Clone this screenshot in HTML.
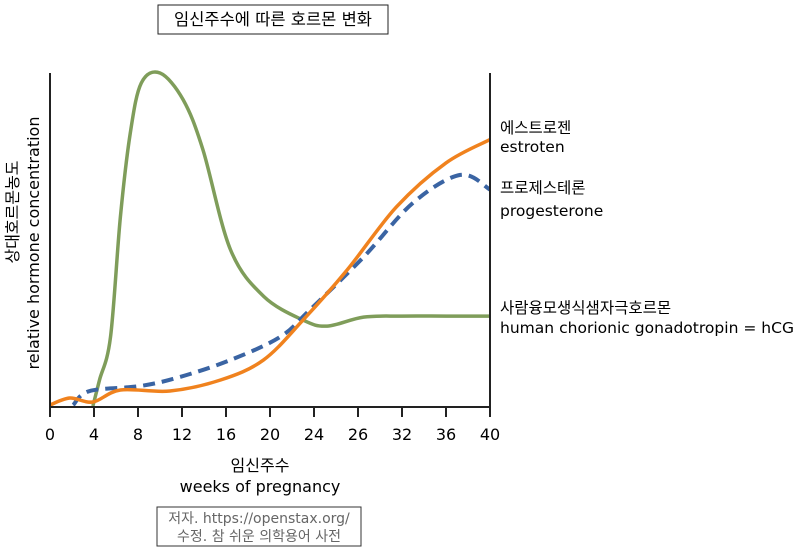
<!DOCTYPE html>
<html><head><meta charset="utf-8"><style>
body{margin:0;background:#fff;width:800px;height:552px;overflow:hidden}
svg text{font-family:"DejaVu Sans","Liberation Sans","Noto Sans CJK KR",sans-serif}
</style></head><body>
<svg id="c" width="800" height="552">
<rect x="158" y="5" width="230" height="29" fill="#fff" stroke="#222"/>
<text x="273" y="25" font-size="16.5" text-anchor="middle">임신주수에 따른 호르몬 변화</text>
<g id="plot"></g>
<text x="500" y="133" font-size="15.5">에스트로젠</text>
<text x="500" y="152" font-size="15.5">estroten</text>
<text x="500" y="193" font-size="15.5">프로제스테론</text>
<text x="500" y="216" font-size="15.5">progesterone</text>
<text x="500" y="313" font-size="15.5">사람융모생식샘자극호르몬</text>
<text x="500" y="333" font-size="15.5" textLength="294" lengthAdjust="spacingAndGlyphs">human chorionic gonadotropin = hCG</text>
<text transform="translate(18,212) rotate(-90)" font-size="16" text-anchor="middle">상대호르몬농도</text>
<text transform="translate(39,243) rotate(-90)" font-size="16" text-anchor="middle">relative hormone concentration</text>
<text x="260" y="471" font-size="16" text-anchor="middle">임신주수</text>
<text x="260" y="492" font-size="16" text-anchor="middle">weeks of pregnancy</text>
<rect x="157" y="507" width="204" height="39" fill="#fff" stroke="#333"/>
<text x="259" y="523" font-size="14" fill="#666" text-anchor="middle">저자. https://openstax.org/</text>
<text x="259" y="541" font-size="14" fill="#666" text-anchor="middle">수정. 참 쉬운 의학용어 사전</text>
</svg>
<script>
const tickLabels=["0","4","8","12","16","20","24","26","32","36","40"];
const hcgWeeks=[3.9,4.5,5.5,6.4,7.3,8.3,10,12.1,13.9,16.4,19.4,23,25.2,28.5,32,36,40];
const hcgValues=[0,7.8,20.7,56.8,82,97,100,92,77,47,33,25.8,24,26.7,27,27,27];
const estWeeks=[0,1.8,3.9,6.4,10.9,15.5,19.4,23,27,31.5,36,40];
const estValues=[0.3,2.4,1.2,4.8,4.5,7.8,13.8,25.8,40.8,59.8,73,80];
const proWeeks=[2.1,3.6,8.2,11.8,16.4,20.9,23.6,28.5,33,37.3,40];
const proValues=[0.3,4.5,6,8.7,13.8,20.7,28.8,44.7,61,69.4,65];
const NS="http://www.w3.org/2000/svg";
const g=document.getElementById('plot');
const X=w=>50+w*11, Y=v=>406-v*3.33;
function el(t,a){const e=document.createElementNS(NS,t);for(const k in a)e.setAttribute(k,a[k]);g.appendChild(e);return e;}
function path(ws,vs){const p=ws.map((w,i)=>[X(w),Y(vs[i])]);let d="M"+p[0][0]+","+p[0][1];
for(let i=0;i<p.length-1;i++){const p0=p[Math.max(0,i-1)],p1=p[i],p2=p[i+1],p3=p[Math.min(p.length-1,i+2)];
d+=` C${p1[0]+(p2[0]-p0[0])/6},${p1[1]+(p2[1]-p0[1])/6} ${p2[0]-(p3[0]-p1[0])/6},${p2[1]-(p3[1]-p1[1])/6} ${p2[0]},${p2[1]}`;}return d;}
const hc=el('path',{d:path(hcgWeeks,hcgValues),fill:'none',stroke:'#7f9d5a','stroke-width':3.5});


const pr=el('path',{d:path(proWeeks,proValues),fill:'none',stroke:'#3a64a3','stroke-width':4,'stroke-dasharray':'12,7'});


const es=el('path',{d:path(estWeeks,estValues),fill:'none',stroke:'#f0821e','stroke-width':3.5});


const ax=el('path',{d:'M50,73V407H490V73',fill:'none',stroke:'#222','stroke-width':2});


tickLabels.forEach((t,i)=>{const x=X(i*4);
const tk=el('line',{x1:x,x2:x,y1:407,y2:417,stroke:'#222','stroke-width':2});


const tx=el('text',{x:x,y:440,'font-size':16,'text-anchor':'middle'});tx.textContent=t;

});
</script>
</body></html>
